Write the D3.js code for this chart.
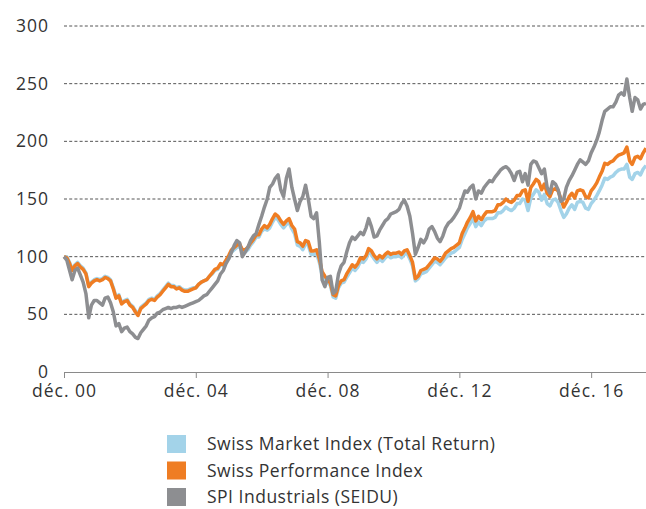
<!DOCTYPE html>
<html>
<head>
<meta charset="utf-8">
<script src="https://cdn.jsdelivr.net/npm/d3@7"></script>
<style>
  body { margin: 0; background: #fff; }
  text { font-family: "Open Sans", "Noto Sans", sans-serif; fill: #333; }
</style>
</head>
<body>
<div id="chart"></div>
<script>
// monthly values, indexed to 100 in Dec 2000 (Dec 2000 .. Aug 2018)
const smiTR = [
  100,100,95,89,93,95,92,90,86,75,78,80,
  81,80,81,83,82,80,73,65,67,60,62,63,
  59,57,53,50,56,58,60,63,64,63,66,68,
  71,74,77,75,75,73,74,72,71,71,72,73,
  73,76,78,79,80,83,85,88,89,93,92,96,
  99,104,106,108,109,104,104,106,110,113,117,117,
  122,124,123,125,130,134,132,128,125,128,130,124,
  120,110,109,106,111,110,102,102,103,95,84,81,
  78,75,65,64,73,77,78,82,86,90,88,91,
  96,95,98,104,102,98,95,98,96,99,101,99,
  100,100,101,99,102,103,98,92,79,81,85,86,
  87,90,93,96,95,93,96,99,101,103,104,106,
  108,115,120,125,129,133,126,130,127,131,133,133,
  133,134,138,138,140,143,141,140,142,146,146,150,
  149,140,151,154,158,156,149,154,146,144,149,150,
  147,140,134,137,142,145,141,147,148,147,142,141,
  146,149,153,157,162,168,167,169,170,173,175,176,
  176,180,169,167,172,173,171,176,179
];

const spi = [
  100,99,94,88,92,94,91,89,85,74,77,79,
  80,79,80,82,81,79,72,64,66,59,61,62,
  58,56,52,49,55,57,59,62,63,62,65,67,
  70,73,76,74,74,72,73,71,70,70,71,72,
  73,76,78,79,80,83,86,89,90,94,93,97,
  101,106,108,110,111,106,106,108,112,115,119,119,
  124,127,125,128,133,137,135,131,128,131,133,127,
  124,113,112,109,114,113,105,105,106,98,87,83,
  80,77,67,66,75,79,80,85,89,93,91,94,
  99,98,101,107,105,101,98,101,99,102,104,102,
  103,103,104,102,105,106,101,95,81,83,88,89,
  90,93,96,99,98,96,99,103,105,107,108,110,
  112,120,125,130,134,139,131,135,132,136,139,139,
  139,140,145,145,147,150,148,147,149,153,153,157,
  158,148,160,163,167,165,158,163,155,152,158,159,
  157,150,143,147,152,155,151,157,158,157,152,151,
  157,160,164,169,174,181,180,182,183,186,188,189,
  190,195,183,180,186,187,185,190,194
];

const seidu = [
  100,97,88,80,88,90,84,78,68,47,58,62,
  62,60,58,64,65,60,52,40,42,35,38,39,
  35,33,30,29,34,37,40,45,47,48,51,52,
  54,55,56,55,56,56,57,56,57,58,59,60,
  61,62,64,66,67,70,73,76,79,85,88,94,
  98,104,110,114,112,100,104,108,114,118,120,128,
  135,143,150,160,163,168,171,158,152,168,176,160,
  150,140,148,152,162,150,135,133,138,112,80,74,
  82,83,68,70,85,92,95,104,112,117,115,118,
  121,119,125,133,126,117,118,123,127,131,133,137,
  138,139,141,146,149,144,135,120,102,108,115,112,
  116,124,126,122,116,113,118,125,129,131,134,138,
  142,150,157,156,160,162,150,157,155,160,163,166,
  165,169,172,175,177,178,176,172,166,173,174,165,
  172,162,180,183,182,177,172,176,160,155,165,163,
  158,148,150,160,166,170,175,180,184,182,180,183,
  190,195,201,208,218,226,228,230,230,234,240,242,
  240,254,238,226,238,236,228,232,233
];

const seriesNames = [
  "Swiss Market Index (Total Return)",
  "Swiss Performance Index",
  "SPI Industrials (SEIDU)"
];
const seriesColors = ["#a3d3e9", "#ef7d23", "#8d8e91"];

const yTicks = [0, 50, 100, 150, 200, 250, 300];
const xTickDates = [new Date(2000, 11, 1), new Date(2004, 11, 1), new Date(2008, 11, 1),
                    new Date(2012, 11, 1), new Date(2016, 11, 1)];

const svgWidth = 646;
const svgHeight = 509;

const margin = { top: 26, right: 0, bottom: 137, left: 64 };
const width = svgWidth - margin.left - margin.right;
const height = svgHeight - margin.top - margin.bottom;

const months = d3.timeMonth.range(new Date(2000, 11, 1), new Date(2018, 8, 1));

const svg = d3.select('#chart')
    .append('svg')
    .attr('width', svgWidth)
    .attr('height', svgHeight);

const chartGroup = svg.append('g')
    .attr('transform', `translate(${margin.left}, ${margin.top})`);

const xScale = d3.scaleTime()
    .domain([months[0], months[months.length - 1]])
    .range([0, width]);

const yScale = d3.scaleLinear()
    .domain([0, 300])
    .range([height, 0]);

// gridlines
chartGroup.append('g')
    .selectAll('line')
    .data(yTicks.filter(d => d > 0))
    .enter()
    .append('line')
    .attr('x1', 0)
    .attr('x2', width)
    .attr('y1', d => yScale(d))
    .attr('y2', d => yScale(d))
    .attr('stroke', '#555')
    .attr('stroke-width', 1)
    .attr('stroke-dasharray', '3,2.2');

// y labels
chartGroup.append('g')
    .selectAll('text')
    .data(yTicks)
    .enter()
    .append('text')
    .attr('x', -15)
    .attr('y', d => yScale(d))
    .attr('dy', '0.34em')
    .attr('text-anchor', 'end')
    .style('font-size', '17.5px')
    .style('letter-spacing', '1px')
    .text(d => d);

// x axis
const bottomAxis = d3.axisBottom(xScale)
    .tickValues(xTickDates)
    .tickSize(6)
    .tickPadding(7)
    .tickFormat(d => 'déc. ' + d3.timeFormat('%y')(d));

const xAxis = chartGroup.append('g')
    .attr('transform', `translate(0, ${height})`)
    .call(bottomAxis);

xAxis.select('.domain')
    .attr('d', `M0.5,6V0.5H${width}`)
    .attr('stroke', '#8a8a8a');
xAxis.selectAll('.tick line').attr('stroke', '#8a8a8a');
xAxis.selectAll('.tick text')
    .style('font-size', '17.5px')
    .style('letter-spacing', '1px')
    .style('font-family', '"Open Sans", "Noto Sans", sans-serif')
    .attr('fill', '#333');

// lines
const line = d3.line()
    .x((d, i) => xScale(months[i]))
    .y(d => yScale(d));

[smiTR, spi, seidu].forEach((values, k) => {
    chartGroup.append('path')
        .datum(values)
        .attr('fill', 'none')
        .attr('stroke', seriesColors[k])
        .attr('stroke-width', 3.5)
        .attr('stroke-linejoin', 'round')
        .attr('d', line);
});

// legend
const legend = svg.append('g')
    .attr('transform', 'translate(167, 435)');

seriesNames.forEach((name, i) => {
    const row = legend.append('g')
        .attr('transform', `translate(0, ${i * 26.5})`);
    row.append('rect')
        .attr('width', 19)
        .attr('height', 18)
        .attr('fill', seriesColors[i]);
    row.append('text')
        .attr('x', 40)
        .attr('y', 9)
        .attr('dy', '0.36em')
        .style('font-size', '17.5px')
        .style('letter-spacing', '0.5px')
        .text(name);
});
</script>
</body>
</html>
